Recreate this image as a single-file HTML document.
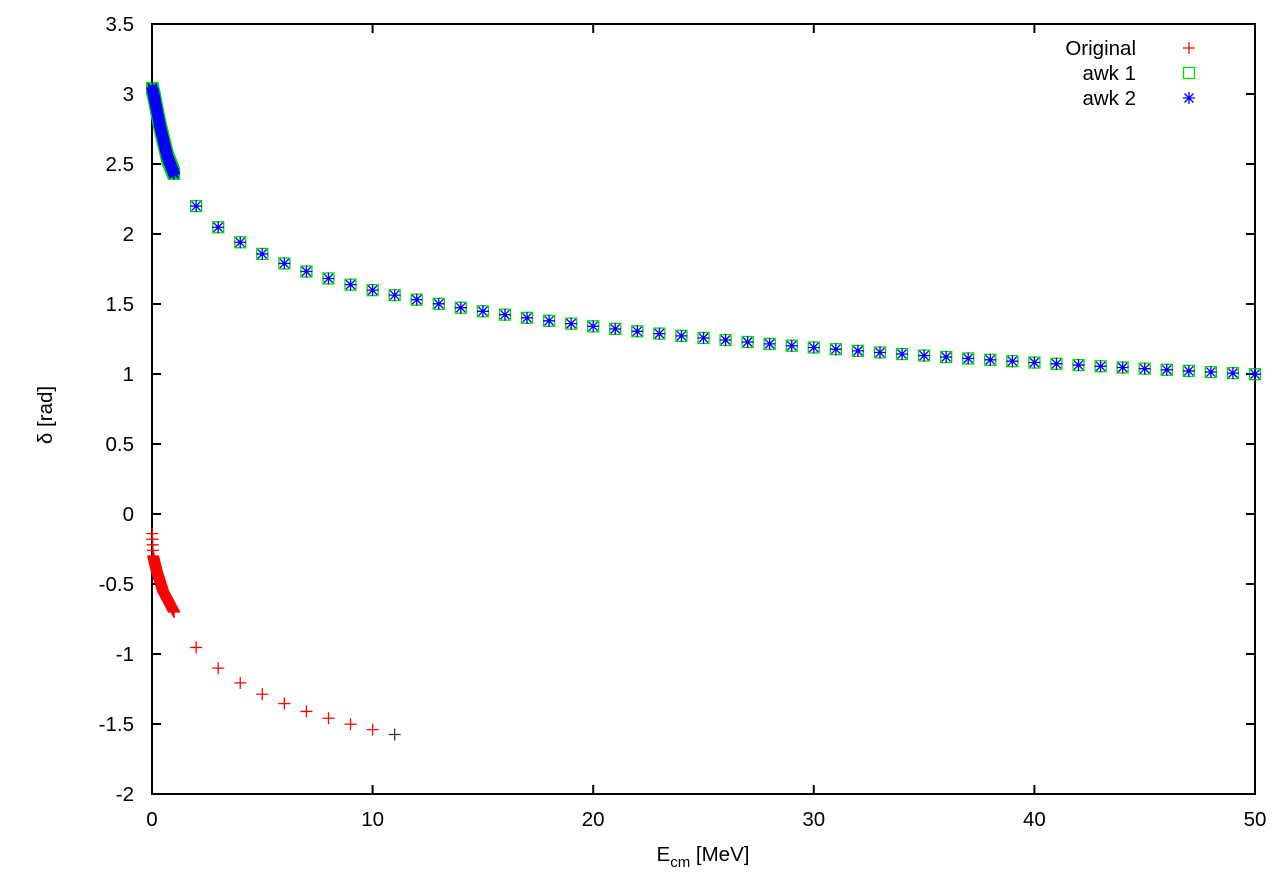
<!DOCTYPE html>
<html><head><meta charset="utf-8"><style>
body{margin:0;background:#fff}
svg{display:block}
text{font-family:"Liberation Sans",sans-serif;font-size:20.5px;fill:#000}
</style></head><body>
<svg id="s" width="1275" height="879" xmlns="http://www.w3.org/2000/svg">
<rect x="152" y="24" width="1103" height="770" fill="none" stroke="#000" stroke-width="2"/>
<g id="ax"></g>
<g id="pts"></g>
<text x="703" y="861" text-anchor="middle">E<tspan font-size="15" dy="6">cm</tspan><tspan dy="-6"> [MeV]</tspan></text>
<text transform="translate(52,415) rotate(-90)" text-anchor="middle">δ [rad]</text>
<text x="1136" y="55" text-anchor="end">Original</text>
<text x="1136" y="80" text-anchor="end">awk 1</text>
<text x="1136" y="105" text-anchor="end">awk 2</text>
</svg>
<script>
const NS="http://www.w3.org/2000/svg";
const X=e=>152+e*1103/50, Y=d=>514-d*140;
const ax=document.getElementById('ax'), P=document.getElementById('pts');
function el(p,tag,a,txt){const e=document.createElementNS(NS,tag);for(const k in a)e.setAttribute(k,a[k]);if(txt!==undefined)e.textContent=txt;p.appendChild(e);return e;}
for(let v=-2;v<=3.5001;v+=0.5){const y=Y(v);
 el(ax,'line',{x1:152,x2:161,y1:y,y2:y,stroke:'#000','stroke-width':2});
 el(ax,'line',{x1:1246,x2:1255,y1:y,y2:y,stroke:'#000','stroke-width':2});
 el(ax,'text',{x:134,y:y+7,'text-anchor':'end'},String(Math.round(v*10)/10));}
for(let v=0;v<=50;v+=10){const x=X(v);
 el(ax,'line',{x1:x,x2:x,y1:794,y2:785,stroke:'#000','stroke-width':2});
 el(ax,'line',{x1:x,x2:x,y1:24,y2:33,stroke:'#000','stroke-width':2});
 el(ax,'text',{x:x,y:826,'text-anchor':'middle'},String(v));}
function pl(pts,e){for(let i=0;i<pts.length-1;i++){const [a,b]=pts[i],[c,d]=pts[i+1];if(e<=c)return b+(d-b)*(e-a)/(c-a);}return pts[pts.length-1][1];}
function plus(x,y,c){el(P,'path',{d:`M${x-6} ${y}h12M${x} ${y-6}v12`,stroke:c,'stroke-width':1.3,fill:'none'});}
function sq(x,y){el(P,'rect',{x:x-5.5,y:y-5.5,width:11,height:11,stroke:'#0d0','stroke-width':1.3,fill:'none'});}
function star(x,y){el(P,'path',{d:`M${x-6} ${y}h12M${x} ${y-6}v12M${x-4.5} ${y-4.5}l9 9M${x-4.5} ${y+4.5}l9 -9`,stroke:'#00f','stroke-width':1.3,fill:'none'});}
const bp=[[0,3.05],[0.1,2.98],[0.35,2.78],[0.7,2.55],[1,2.43]];
const rp=[[0,-0.1],[0.05,-0.3],[0.2,-0.4],[0.5,-0.55],[1,-0.7]];
for(let i=1;i<=100;i++){const e=i/100;plus(X(e),Y(pl(rp,e)),'#f00');}
for(let e=2;e<=11;e++)plus(X(e),Y(-0.7-0.365*Math.log(e)),e==11?'#333':'#f00');
for(let i=1;i<=100;i++){const e=i/100;sq(X(e),Y(pl(bp,e)));}
for(let i=1;i<=100;i++){const e=i/100;star(X(e),Y(pl(bp,e)));}
for(let e=2;e<=50;e++){const d=2.458-0.373*Math.log(e);sq(X(e),Y(d));star(X(e),Y(d));}
plus(1189,48,'#f00');sq(1189,73);star(1189,98);
</script>
</body></html>
